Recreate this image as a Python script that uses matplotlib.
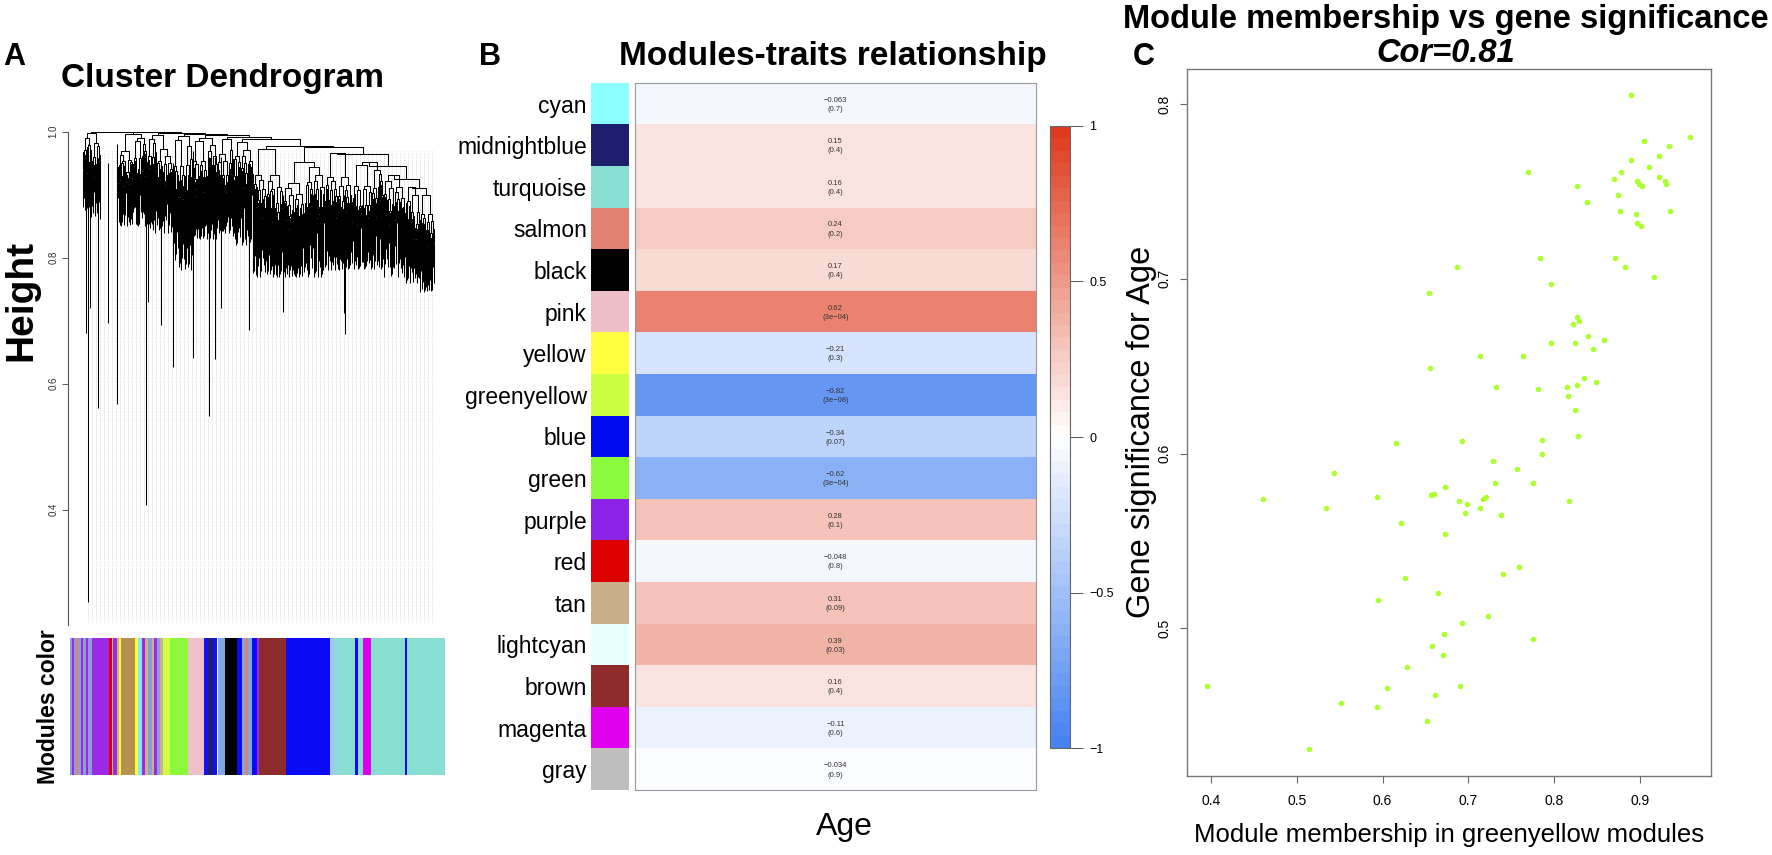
import numpy as np
import matplotlib
matplotlib.use("Agg")
import matplotlib.pyplot as plt
from matplotlib.colors import LinearSegmentedColormap, Normalize
from matplotlib.collections import LineCollection
from matplotlib.cm import ScalarMappable

plt.rcParams['font.family'] = ['Liberation Sans', 'DejaVu Sans']

W, H = 1772, 855

# ---------------- panel A : dendrogram skeleton (pixel x, height y) ----------------
dendro_x0 = [83, 118, 147, 173, 192, 217, 233, 253, 283, 325, 353, 383, 405, 420]
dendro_x1 = [100, 147, 173, 192, 217, 233, 253, 283, 325, 353, 383, 405, 420, 434]
dendro_top = [0.998, 0.996, 0.995, 0.993, 0.99, 0.988, 0.984, 0.972, 0.952, 0.966, 0.952, 0.932, 0.912, 0.9]
dendro_floor = [0.86, 0.85, 0.84, 0.78, 0.83, 0.84, 0.82, 0.77, 0.77, 0.78, 0.78, 0.77, 0.76, 0.745]
dendro_merge = [1.0, 0.999, 0.998, 0.997, 0.995, 0.992, 0.988, 0.978, 0.975, 0.965, 0.945, 0.925, 0.91]

hang_x = [86, 88, 90, 98, 108, 117, 146, 148, 161, 173, 193, 209, 215, 221, 249, 283, 344, 345]
hang_top = [0.97, 0.98, 0.96, 0.95, 0.95, 0.98, 0.97, 0.96, 0.95, 0.95, 0.97, 0.96, 0.96, 0.96, 0.95, 0.9, 0.9, 0.9]
hang_bottom = [0.68, 0.253, 0.72, 0.561, 0.696, 0.568, 0.407, 0.73, 0.693, 0.627, 0.641, 0.548, 0.639, 0.72, 0.685, 0.714, 0.712, 0.679]

# module colour bar under the dendrogram: (start px, end px, colour)
bar_start = [70, 72, 74, 76, 78, 81, 83, 86, 88, 92, 109, 111.7, 113.3, 116.7, 119.3, 120.7, 135, 138.3,
             141.7, 145, 148.3, 151.7, 154, 156.7, 160, 163.3, 170, 188.3, 204, 208.3, 213.3, 216.7, 218.3,
             225, 237.3, 242.3, 245, 248.3, 251.7, 256.7, 259.3, 285.7, 330, 333.3, 340, 355, 358.3,
             363.3, 370.7, 405, 407.3]
bar_end = bar_start[1:] + [445]
bar_color = ['#8D9ED6', '#9A2AE6', '#8D9ED6', '#E08070', '#8D9ED6', '#9A2AE6', '#8D9ED6', '#9A2AE6', '#8D9ED6',
             '#9A2AE6', '#DD0000', '#CBB08A', '#9A2AE6', '#CBB08A', '#FFFF40', '#B89050', '#FFFF40',
             '#86E8F2', '#9A2AE6', '#CBB08A', '#8D9ED6', '#CBB08A', '#9A2AE6', '#8D9ED6', '#CBB08A',
             '#CCFF44', '#8DF73C', '#EEC0CA', '#1010F0', '#1E1E6E', '#1010F0', '#F4F8FF', '#7FA8E0',
             '#000000', '#0A0AF5', '#7FA8E0', '#E08070', '#7FA8E0', '#0A0AF5', '#9A2AE6', '#8E2C2C',
             '#0A0AF5', '#A8C4E8', '#90D8E0', '#88DFD1', '#0A0AF5', '#88DFD1', '#E000EE', '#88DFD1',
             '#0A0AF5', '#88DFD1']

# ---------------- panel B : module-trait table ----------------
modules = ['cyan', 'midnightblue', 'turquoise', 'salmon', 'black', 'pink', 'yellow', 'greenyellow', 'blue',
           'green', 'purple', 'red', 'tan', 'lightcyan', 'brown', 'magenta', 'gray']
swatch = ['#8CFFFF', '#1E1E6E', '#88DED0', '#E08070', '#000000', '#EEBEC8', '#FFFF40', '#CCFF44', '#000AF0',
          '#8CFA3C', '#8C23E6', '#DC0000', '#C8AF8C', '#E6FFFF', '#8E2C2C', '#E100EE', '#BEBEBE']
cor_age = [-0.063, 0.15, 0.16, 0.24, 0.17, 0.62, -0.21, -0.82, -0.34, -0.62, 0.28, -0.048, 0.31, 0.39, 0.16,
           -0.11, -0.034]
p_age = ['0.7', '0.4', '0.4', '0.2', '0.4', '3e-04', '0.3', '3e-08', '0.07', '3e-04', '0.1', '0.8', '0.09',
         '0.03', '0.4', '0.6', '0.9']

# ---------------- panel C : greenyellow module genes ----------------
mm_greenyellow = [0.890, 0.959, 0.905, 0.934, 0.922, 0.890, 0.911, 0.770, 0.878, 0.870, 0.922, 0.897, 0.899,
                  0.903, 0.929, 0.931, 0.827, 0.838, 0.874, 0.877, 0.895, 0.935, 0.897, 0.901, 0.784, 0.871,
                  0.883, 0.687, 0.917, 0.797, 0.654, 0.827, 0.829, 0.822, 0.797, 0.824, 0.839, 0.858, 0.845,
                  0.714, 0.764, 0.655, 0.732, 0.781, 0.815, 0.827, 0.835, 0.849, 0.816, 0.825, 0.616, 0.693,
                  0.786, 0.828, 0.786, 0.729, 0.757, 0.673, 0.731, 0.775, 0.594, 0.657, 0.660, 0.689, 0.699,
                  0.717, 0.721, 0.714, 0.696, 0.738, 0.818, 0.622, 0.673, 0.759, 0.740, 0.626, 0.595, 0.665,
                  0.723, 0.693, 0.672, 0.776, 0.658, 0.671, 0.629, 0.605, 0.661, 0.690, 0.594, 0.652, 0.543,
                  0.461, 0.534, 0.395, 0.552, 0.514]
gs_age = [0.805, 0.781, 0.779, 0.776, 0.770, 0.768, 0.764, 0.761, 0.761, 0.757, 0.758, 0.756, 0.754, 0.753,
          0.756, 0.754, 0.753, 0.744, 0.748, 0.739, 0.737, 0.739, 0.732, 0.730, 0.712, 0.712, 0.707, 0.707,
          0.701, 0.697, 0.692, 0.678, 0.676, 0.674, 0.663, 0.663, 0.667, 0.665, 0.660, 0.656, 0.656, 0.649,
          0.638, 0.637, 0.638, 0.639, 0.643, 0.641, 0.633, 0.625, 0.606, 0.607, 0.608, 0.610, 0.600, 0.596,
          0.591, 0.581, 0.583, 0.583, 0.575, 0.576, 0.577, 0.573, 0.571, 0.574, 0.575, 0.569, 0.566, 0.565,
          0.573, 0.560, 0.554, 0.535, 0.531, 0.529, 0.516, 0.520, 0.507, 0.503, 0.497, 0.494, 0.490, 0.485,
          0.478, 0.466, 0.462, 0.467, 0.455, 0.447, 0.589, 0.574, 0.569, 0.467, 0.457, 0.431]


def box(x0, y0, x1, y1):
    return [x0 / W, 1 - y1 / H, (x1 - x0) / W, (y1 - y0) / H]


def ftext(x, y, s, **kw):
    return fig.text(x / W, 1 - y / H, s, **kw)


fig = plt.figure(figsize=(W / 100, H / 100), dpi=100)

# ======================= A =======================
ax_d = fig.add_axes(box(68, 125, 445, 625))
ax_d.set_xlim(68, 445)
ax_d.set_ylim(0.217, 1.0 + 6.7 / 630)

# light dotted guide lines
guide_x = np.arange(88, 433, 4.0)
ax_d.vlines(guide_x, 0.222, 0.97, colors='#c4c4c4', linewidth=0.5, linestyles=(0, (1, 1.5)), zorder=1)

segs = []
SPLIT = [0.5, 0.38, 0.62, 0.45, 0.3, 0.55, 0.7, 0.42, 0.6, 0.35, 0.52]
DROP_L = [0.06, 0.14, 0.03, 0.2, 0.09, 0.05, 0.16, 0.1, 0.12, 0.04, 0.18]
DROP_R = [0.12, 0.05, 0.18, 0.08, 0.03, 0.15, 0.07, 0.11, 0.04, 0.2, 0.09]
LEAF = [0.0, 0.35, 0.15, 0.55, 0.05, 0.25, 0.65, 0.1, 0.45, 0.2, 0.75, 0.3, 0.02]
cnt = [0]


def subtree(x0, x1, h, floor):
    i = cnt[0]
    cnt[0] += 1
    if x1 - x0 < 0.75:
        xc = 0.5 * (x0 + x1)
        segs.append([(xc, h), (xc, floor + (h - floor) * LEAF[i % len(LEAF)])])
        return xc
    xm = x0 + (x1 - x0) * SPLIT[i % len(SPLIT)]
    hl = h - (h - floor) * DROP_L[i % len(DROP_L)]
    hr = h - (h - floor) * DROP_R[(i * 3) % len(DROP_R)]
    cl = subtree(x0, xm, hl, floor)
    cr = subtree(xm, x1, hr, floor)
    segs.append([(cl, hl), (cl, h), (cr, h), (cr, hr)])
    return 0.5 * (cl + cr)


centers = [subtree(a, b, t, f) for a, b, t, f in zip(dendro_x0, dendro_x1, dendro_top, dendro_floor)]
node_x, node_h = centers[-1], dendro_top[-1]
for k in range(len(centers) - 2, -1, -1):
    m = dendro_merge[k]
    segs.append([(centers[k], dendro_top[k]), (centers[k], m), (node_x, m), (node_x, node_h)])
    node_x, node_h = 0.5 * (centers[k] + node_x), m
for x, t, b in zip(hang_x, hang_top, hang_bottom):
    segs.append([(x, t), (x, b)])
ax_d.add_collection(LineCollection(segs, colors='black', linewidths=0.75, zorder=2))

for s in ['top', 'right', 'bottom']:
    ax_d.spines[s].set_visible(False)
ax_d.spines['left'].set_bounds(0.217, 1.0)
ax_d.spines['left'].set_color('#555555')
ax_d.spines['left'].set_linewidth(0.8)
ax_d.set_xticks([])
ax_d.set_yticks([0.4, 0.6, 0.8, 1.0])
ax_d.set_yticklabels(['0.4', '0.6', '0.8', '1.0'], rotation=90, va='center', fontsize=7, color='#333333')
ax_d.tick_params(axis='y', length=4, width=0.7, color='#555555', pad=3)
ax_d.patch.set_alpha(0)

ax_c = fig.add_axes(box(68, 638, 445, 775))
ax_c.set_xlim(68, 445)
ax_c.set_ylim(0, 1)
for a, b, c in zip(bar_start, bar_end, bar_color):
    ax_c.axvspan(a, b, color=c, lw=0)
ax_c.axis('off')

ftext(3, 65, 'A', fontsize=22, fontweight='bold', ha='left', va='baseline')
ftext(223, 87, 'Cluster Dendrogram', fontsize=24, fontweight='bold', ha='center', va='baseline')
ftext(31, 300, 'Height', fontsize=28, fontweight='bold', rotation=90, rotation_mode='anchor',
      ha='center', va='baseline')
ftext(55, 707, 'Modules color', fontsize=16.5, fontweight='bold', rotation=90, rotation_mode='anchor',
      ha='center', va='baseline')

# ======================= B =======================
blue_end = (70 / 255, 130 / 255, 240 / 255)
red_end = (222 / 255, 58 / 255, 28 / 255)
cmap = LinearSegmentedColormap.from_list('bwr50', [blue_end, (1, 1, 1), red_end], N=50)
norm = Normalize(-1, 1)

ax_s = fig.add_axes(box(591, 82.7, 629, 790))
ax_s.barh(range(len(modules)), 1, height=1, color=swatch, lw=0)
ax_s.set_xlim(0, 1)
ax_s.set_ylim(len(modules) - 0.5, -0.5)
ax_s.set_xticks([])
ax_s.set_yticks(range(len(modules)))
ax_s.set_yticklabels(modules, fontsize=16.5)
ax_s.tick_params(axis='y', length=0, pad=3)
for s in ax_s.spines.values():
    s.set_visible(False)

ax_h = fig.add_axes(box(635, 82.7, 1036, 790))
vals = np.array(cor_age).reshape(-1, 1)
ax_h.pcolormesh(np.array([0, 1]), np.arange(len(modules) + 1), vals, cmap=cmap, norm=norm)
ax_h.set_xlim(0, 1)
ax_h.set_ylim(len(modules), 0)
for i, (c, p) in enumerate(zip(cor_age, p_age)):
    ax_h.text(0.5, i + 0.42, f'{c:g}'.replace('-', '\u2212'), ha='center', va='center', fontsize=5.5,
              color='#333333')
    ax_h.text(0.5, i + 0.64, '(' + p.replace('-', '\u2212') + ')', ha='center', va='center', fontsize=5.5,
              color='#333333')
ax_h.set_xticks([])
ax_h.set_yticks([])
for s in ax_h.spines.values():
    s.set_color('#999999')
    s.set_linewidth(0.8)

cax = fig.add_axes(box(1050, 126, 1070, 748))
cb = fig.colorbar(ScalarMappable(norm=norm, cmap=cmap), cax=cax, ticks=[-1, -0.5, 0, 0.5, 1])
cb.ax.set_yticklabels(['\u22121', '\u22120.5', '0', '0.5', '1'])
cb.ax.tick_params(length=9, width=0.7, color='#555555', labelsize=9, pad=5)
cb.outline.set_edgecolor('#666666')
cb.outline.set_linewidth(0.8)

ftext(479, 65, 'B', fontsize=22, fontweight='bold', ha='left', va='baseline')
ftext(833, 65, 'Modules-traits relationship', fontsize=24, fontweight='bold', ha='center', va='baseline')
ftext(844, 835, 'Age', fontsize=23, ha='center', va='baseline')

# ======================= C =======================
ax_p = fig.add_axes(box(1187, 69, 1711, 776))
ax_p.scatter(mm_greenyellow, gs_age, s=16, color='#ADFF2F', lw=0, zorder=3)
ax_p.set_xlim(0.372, 0.983)
ax_p.set_ylim(0.4155, 0.820)
ax_p.set_xticks([0.4, 0.5, 0.6, 0.7, 0.8, 0.9])
ax_p.set_yticks([0.5, 0.6, 0.7, 0.8])
ax_p.set_yticklabels(['0.5', '0.6', '0.7', '0.8'], rotation=90, va='center')
ax_p.tick_params(length=5, width=0.8, color='#666666', labelsize=10, direction='out')
ax_p.tick_params(axis='x', pad=8)
ax_p.tick_params(axis='y', pad=6)
for s in ax_p.spines.values():
    s.set_color('#777777')
    s.set_linewidth(1.0)

ftext(1133, 65, 'C', fontsize=22, fontweight='bold', ha='left', va='baseline')
ftext(1446, 28, 'Module membership vs gene significance', fontsize=23.5, fontweight='bold', ha='center',
      va='baseline')
ftext(1446, 62, 'Cor=0.81', fontsize=23.5, fontweight='bold', style='italic', ha='center', va='baseline')
ftext(1449, 842, 'Module membership in greenyellow modules', fontsize=18.5, ha='center', va='baseline')
ftext(1150, 432, 'Gene significance for Age', fontsize=23.5, rotation=90, rotation_mode='anchor',
      ha='center', va='baseline')

fig.savefig('out.png', dpi=100)
